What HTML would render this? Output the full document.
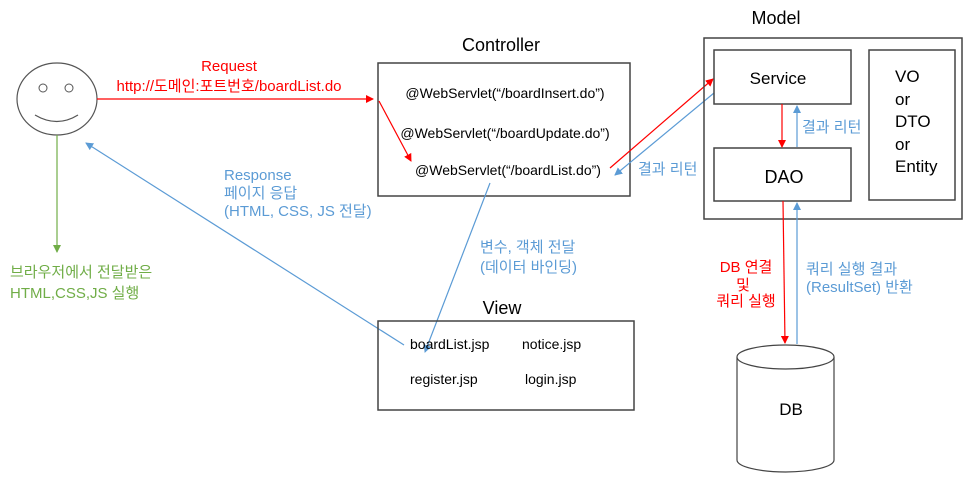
<!DOCTYPE html>
<html><head><meta charset="utf-8"><style>
body{margin:0;width:966px;height:479px;background:#fff;overflow:hidden}
svg text{font-family:"Liberation Sans","Noto Sans CJK KR",sans-serif}
</style></head><body>
<svg width="966" height="479" viewBox="0 0 966 479" xmlns="http://www.w3.org/2000/svg">
<defs>
<marker id="r" markerWidth="8" markerHeight="8" refX="7" refY="4" orient="auto" markerUnits="userSpaceOnUse"><path d="M0,0 L8,4 L0,8z" fill="#f00"/></marker>
<marker id="b" markerWidth="8" markerHeight="8" refX="7" refY="4" orient="auto" markerUnits="userSpaceOnUse"><path d="M0,0 L8,4 L0,8z" fill="#5b9bd5"/></marker>
<marker id="g" markerWidth="8" markerHeight="8" refX="7" refY="4" orient="auto" markerUnits="userSpaceOnUse"><path d="M0,0 L8,4 L0,8z" fill="#70ad47"/></marker>
</defs>
<!-- face -->
<ellipse cx="57" cy="99" rx="40" ry="36" fill="#fff" stroke="#555" stroke-width="1.2"/>
<circle cx="43" cy="88" r="4" fill="none" stroke="#555"/>
<circle cx="69" cy="88" r="4" fill="none" stroke="#555"/>
<path d="M35,115 Q57,128 78,115" fill="none" stroke="#555" stroke-width="1.2"/>
<line x1="57" y1="135" x2="57" y2="252" stroke="#70ad47" stroke-width="1.2" marker-end="url(#g)"/>
<text x="10" y="277" font-size="15" fill="#70ad47">브라우저에서 전달받은</text>
<text x="10" y="298" font-size="15" fill="#70ad47">HTML,CSS,JS 실행</text>
<!-- request -->
<line x1="97" y1="99" x2="373" y2="99" stroke="#f00" stroke-width="1.2" marker-end="url(#r)"/>
<text x="229" y="71" font-size="15" fill="#f00" text-anchor="middle">Request</text>
<text x="229" y="91" font-size="15" fill="#f00" text-anchor="middle">http://도메인:포트번호/boardList.do</text>
<!-- controller -->
<text x="501" y="51" font-size="18" text-anchor="middle">Controller</text>
<rect x="378" y="63" width="252" height="133" fill="none" stroke="#444" stroke-width="1.5"/>
<text x="505" y="98" font-size="14" text-anchor="middle">@WebServlet(“/boardInsert.do”)</text>
<text x="505" y="138" font-size="14" text-anchor="middle">@WebServlet(“/boardUpdate.do”)</text>
<text x="508" y="175" font-size="14" text-anchor="middle">@WebServlet(“/boardList.do”)</text>
<line x1="379" y1="101" x2="411" y2="161" stroke="#f00" stroke-width="1.2" marker-end="url(#r)"/>
<!-- response -->
<line x1="404" y1="345" x2="86" y2="143" stroke="#5b9bd5" stroke-width="1.2" marker-end="url(#b)"/>
<text x="224" y="180" font-size="15" fill="#5b9bd5">Response</text>
<text x="224" y="198" font-size="15" fill="#5b9bd5">페이지 응답</text>
<text x="224" y="216" font-size="15" fill="#5b9bd5">(HTML, CSS, JS 전달)</text>
<!-- binding -->
<line x1="490" y1="183" x2="425" y2="352" stroke="#5b9bd5" stroke-width="1.2" marker-end="url(#b)"/>
<text x="480" y="252" font-size="15" fill="#5b9bd5">변수, 객체 전달</text>
<text x="480" y="272" font-size="15" fill="#5b9bd5">(데이터 바인딩)</text>
<!-- view -->
<text x="502" y="314" font-size="18" text-anchor="middle">View</text>
<rect x="378" y="321" width="256" height="89" fill="none" stroke="#444" stroke-width="1.5"/>
<text x="410" y="349" font-size="14">boardList.jsp</text>
<text x="522" y="349" font-size="14">notice.jsp</text>
<text x="410" y="384" font-size="14">register.jsp</text>
<text x="525" y="384" font-size="14">login.jsp</text>
<!-- controller-model -->
<line x1="610" y1="168" x2="713" y2="79" stroke="#f00" stroke-width="1.2" marker-end="url(#r)"/>
<line x1="714" y1="93" x2="615" y2="175" stroke="#5b9bd5" stroke-width="1.2" marker-end="url(#b)"/>
<text x="638" y="174" font-size="15" fill="#5b9bd5">결과 리턴</text>
<!-- model -->
<text x="776" y="24" font-size="18" text-anchor="middle">Model</text>
<rect x="704" y="38" width="258" height="181" fill="none" stroke="#444" stroke-width="1.5"/>
<rect x="714" y="50" width="137" height="54" fill="none" stroke="#444" stroke-width="1.5"/>
<text x="778" y="84" font-size="17" text-anchor="middle">Service</text>
<rect x="869" y="50" width="86" height="150" fill="none" stroke="#444" stroke-width="1.5"/>
<text x="895" y="82" font-size="17">VO</text>
<text x="895" y="105" font-size="17">or</text>
<text x="895" y="127" font-size="17">DTO</text>
<text x="895" y="150" font-size="17">or</text>
<text x="895" y="172" font-size="17">Entity</text>
<rect x="714" y="148" width="137" height="53" fill="none" stroke="#444" stroke-width="1.5"/>
<text x="784" y="183" font-size="18" text-anchor="middle">DAO</text>
<line x1="782" y1="104" x2="782" y2="147" stroke="#f00" stroke-width="1.2" marker-end="url(#r)"/>
<line x1="797" y1="147" x2="797" y2="106" stroke="#5b9bd5" stroke-width="1.2" marker-end="url(#b)"/>
<text x="802" y="132" font-size="15" fill="#5b9bd5">결과 리턴</text>
<line x1="783" y1="201" x2="785" y2="343" stroke="#f00" stroke-width="1.2" marker-end="url(#r)"/>
<line x1="797" y1="344" x2="797" y2="203" stroke="#5b9bd5" stroke-width="1.2" marker-end="url(#b)"/>
<text x="746" y="272" font-size="15" fill="#f00" text-anchor="middle">DB 연결</text>
<text x="743" y="290" font-size="15" fill="#f00" text-anchor="middle">및</text>
<text x="746" y="306" font-size="15" fill="#f00" text-anchor="middle">쿼리 실행</text>
<text x="806" y="274" font-size="15" fill="#5b9bd5">쿼리 실행 결과</text>
<text x="806" y="292" font-size="15" fill="#5b9bd5">(ResultSet) 반환</text>
<!-- DB -->
<path d="M737,357 L737,460 A48.5,12 0 0 0 834,460 L834,357" fill="#fff" stroke="#444" stroke-width="1.2"/>
<ellipse cx="785.5" cy="357" rx="48.5" ry="12" fill="#fff" stroke="#444" stroke-width="1.2"/>
<text x="791" y="415" font-size="17" text-anchor="middle">DB</text>
</svg>
</body></html>
